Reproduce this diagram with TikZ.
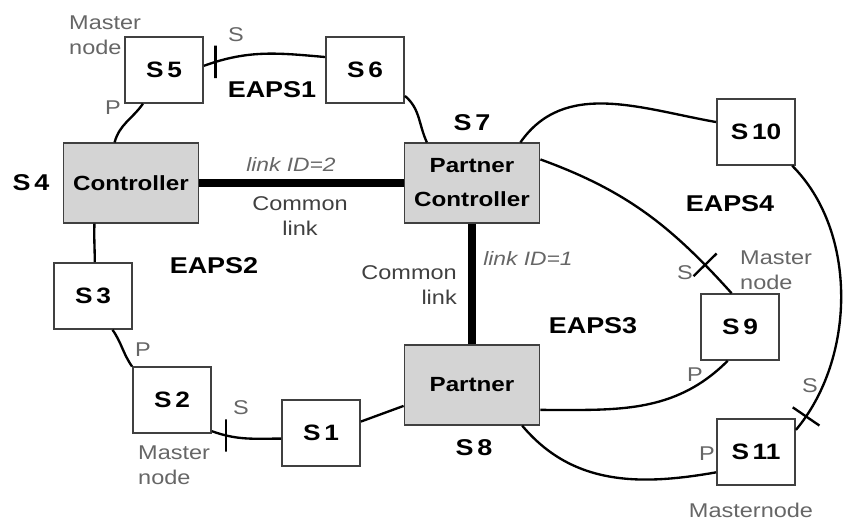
\documentclass[tikz,border=0pt]{standalone}
\usepackage{fontspec}
\setmainfont{Liberation Sans}[FakeStretch=1.18]
\begin{document}
\begin{tikzpicture}[x=0.03cm, y=0.03cm,
    sw/.style={draw=black!75, line width=1.6pt, fill=white, inner sep=0pt,
        minimum width=2.34cm, minimum height=1.97cm,
        font=\bfseries\fontsize{19}{21}\selectfont},
    ctrl/.style={sw, fill=black!17, minimum width=4.05cm, minimum height=2.38cm,
        align=center, font=\bfseries\fontsize{17.5}{29}\selectfont},
    ringlink/.style={line width=2pt},
    commonlink/.style={line width=6pt},
    ticks/.style={draw, line width=2pt, inner sep=0pt, minimum width=0pt,
        minimum height=0.97cm},
    portlbl/.style={inner sep=0pt, text=black!60, font=\fontsize{17}{21}\selectfont},
    idlbl/.style={portlbl, font=\itshape\fontsize{16.5}{21}\selectfont},
    comlbl/.style={portlbl, text=black!75},
    ringlbl/.style={inner sep=0pt, font=\bfseries\fontsize{19.5}{22}\selectfont}]

    % Fix the page to the size of the original
    \useasboundingbox (0,0) rectangle (844,522);

    % Switches of the rings
    \node[sw] (s5) at (164,452) {S\,5};
    \node[sw] (s6) at (365,452) {S\,6};
    \node[ctrl] (ctl) at (131,339) {Controller};
    \node[ctrl] (pctl) at (472,339) {Partner\\Controller};
    \node[sw] (s10) at (756,390) {S\,10};
    \node[sw] (s3) at (93,226) {S\,3};
    \node[sw] (s2) at (172,122) {S\,2};
    \node[sw] (s1) at (321,89) {S\,1};
    \node[ctrl] (prt) at (472,137) {Partner};
    \node[sw] (s9) at (740,195) {S\,9};
    \node[sw] (s11) at (756,70) {S\,11};

    % EAPS1 and EAPS2 ring segments
    \draw[ringlink] (s5.238) to[out=235,in=75] (ctl.112);
    \draw[ringlink] (s5.6) to[out=20,in=175] node[ticks, pos=0.09] (t5) {} (s6.162);
    \draw[ringlink] (s6.-33) to[out=-40,in=115] (pctl.138);
    \draw[ringlink] (ctl.228) to[out=268,in=90] (s3.87);
    \draw[ringlink] (s3.300) to[out=-55,in=125] (s2.140);
    \draw[ringlink] (s2.-38) to[out=-20,in=180] node[ticks, pos=0.2] (t2) {} (s1.188);
    \draw[ringlink] (s1.16) -- (prt.197);

    % Common links
    \draw[commonlink] (ctl.east) -- (pctl.west);
    \draw[commonlink] (pctl.south) -- (prt.north);

    % EAPS3 and EAPS4 ring segments
    \draw[ringlink] (pctl.40) to[out=55,in=170] (s10.166);
    \draw[ringlink] (pctl.19) to[out=-20,in=132] node[ticks, sloped, pos=0.85] (t9) {} (s9.104);
    \draw[ringlink] (s10.-43) to[out=-45,in=50,looseness=0.9] node[ticks, sloped, pos=0.94] (t11) {} (s11.29);
    \draw[ringlink] (prt.-20) to[out=0,in=225] (s9.250);
    \draw[ringlink] (prt.-39) to[out=-50,in=190] (s11.207);

    % Ring names and switch names
    \node[ringlbl] (eaps1) at (272,432) {EAPS1};
    \node[ringlbl] (eaps2) at (214,256) {EAPS2};
    \node[ringlbl] (eaps3) at (593,196) {EAPS3};
    \node[ringlbl] (eaps4) at (730,318) {EAPS4};
    \node[ringlbl] (n4) at (31,339) {S\,4};
    \node[ringlbl] (n7) at (472,399) {S\,7};
    \node[ringlbl] (n8) at (474,74) {S\,8};

    % Link labels
    \node[idlbl] (id2) at (291,358) {link ID=2};
    \node[idlbl] (id1) at (528,264) {link ID=1};
    \node[comlbl, align=center] (c2) at (300,306) {Common\\link};
    \node[comlbl, align=right, anchor=east] (c1) at (457,237) {Common\\link};

    % Master nodes and ports
    \node[portlbl, align=left, anchor=west] (m5) at (69,487) {Master\\node};
    \node[portlbl] (s5s) at (236,487) {S};
    \node[portlbl] (s5p) at (113,414) {P};
    \node[portlbl, align=left, anchor=west] (m2) at (138,57) {Master\\node};
    \node[portlbl] (s2s) at (241,114) {S};
    \node[portlbl] (s2p) at (143,172) {P};
    \node[portlbl, align=left, anchor=west] (m9) at (740,252) {Master\\node};
    \node[portlbl] (s9s) at (685,249) {S};
    \node[portlbl] (s9p) at (695,147) {P};
    \node[portlbl] (m11) at (751,12) {Masternode};
    \node[portlbl] (s11s) at (810,136) {S};
    \node[portlbl] (s11p) at (707,68) {P};

\end{tikzpicture}
\end{document}
